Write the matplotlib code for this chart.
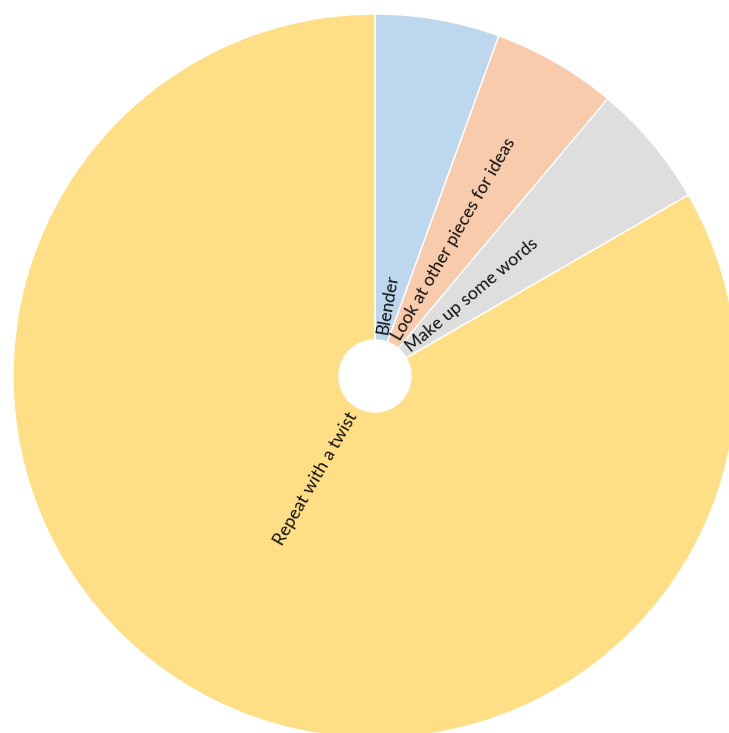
import numpy as np
import matplotlib.pyplot as plt

labels = ["Blender", "Look at other pieces for ideas", "Make up some words", "Repeat with a twist"]
values = [1, 1, 1, 15]
colors = ["#bdd7ee", "#f8cbad", "#dedede", "#ffdf85"]

W, H = 729, 733
cx, cy, R = 375, 376, 362  # pie centre and radius in pixels

fig = plt.figure(figsize=(W / 100, H / 100), dpi=100)
ax = fig.add_axes([0, 0, 1, 1])
ax.pie(values, colors=colors, startangle=90, counterclock=False,
       wedgeprops=dict(width=1 - 36 / R, edgecolor="white", linewidth=1))
ax.set_aspect("auto")
ax.set_xlim(-cx / R, (W - cx) / R)
ax.set_ylim(-(H - cy) / R, cy / R)
ax.axis("off")

# radial labels starting just outside the hole
total = sum(values)
start = 90.0
r0 = 0.118
for lab, v in zip(labels, values):
    span = 360.0 * v / total
    mid = start - span / 2
    start -= span
    a = np.deg2rad(mid)
    x, y = r0 * np.cos(a), r0 * np.sin(a)
    rot = mid % 360
    if 90 < rot < 270:
        ax.text(x, y, lab, rotation=rot - 180, rotation_mode="anchor",
                ha="right", va="center", fontsize=12.8, family="Lato", color="#111111")
    else:
        ax.text(x, y, lab, rotation=rot, rotation_mode="anchor",
                ha="left", va="center", fontsize=12.8, family="Lato", color="#111111")

fig.savefig("out.png", dpi=100, facecolor="white")
